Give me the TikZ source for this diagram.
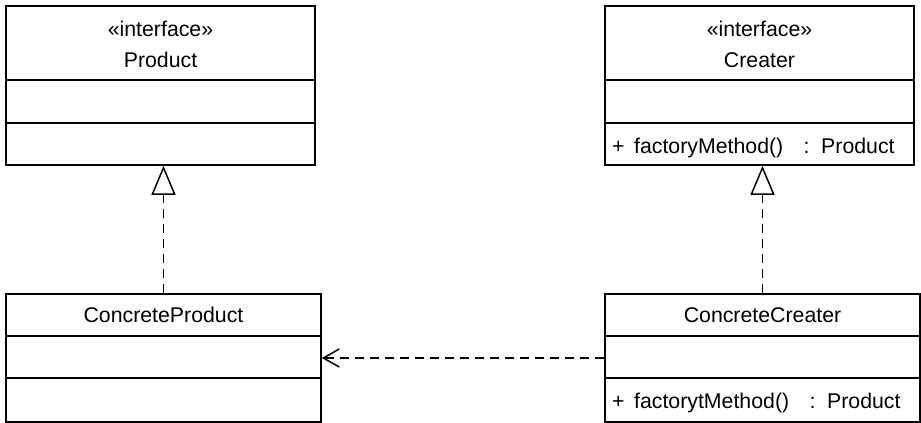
\documentclass[tikz,border=0pt]{standalone}
\usepackage{fontspec}
\setmainfont{Liberation Sans}
\usetikzlibrary{arrows.meta}
\tikzset{
  classbox/.style={draw=black, line width=1.5pt, rectangle, inner sep=0pt, fill=white},
  label/.style={inner sep=0pt, anchor=base, font=\fontsize{21.3}{25}\selectfont},
  method/.style={inner sep=0pt, anchor=base west, font=\fontsize{21.3}{25}\selectfont},
  sep/.style={line width=1.5pt},
  realize/.style={line width=1.5pt, dash pattern=on 9pt off 6pt,
    -{Triangle[open, length=29pt, width=24pt, line width=1.5pt]}},
  depend/.style={line width=1.5pt, dash pattern=on 9pt off 6pt,
    -{Straight Barb[length=16pt, width=18pt, line width=1.5pt]}}
}
\begin{document}
\begin{tikzpicture}[x=1pt,y=-1pt]
\useasboundingbox (0,0) rectangle (921,423);
% boxes
\node[classbox, minimum width=309pt, minimum height=159pt] (P) at (160.5,85.5) {};
\node[classbox, minimum width=309pt, minimum height=159pt] (C) at (759.5,85.5) {};
\node[classbox, minimum width=315pt, minimum height=128pt] (CP) at (163.5,358) {};
\node[classbox, minimum width=315pt, minimum height=128pt] (CC) at (762.5,358) {};
% compartment lines
\draw[sep] (6,80) -- (315,80);
\draw[sep] (6,123) -- (315,123);
\draw[sep] (605,80) -- (914,80);
\draw[sep] (605,123) -- (914,123);
\draw[sep] (6,336) -- (321,336);
\draw[sep] (6,378) -- (321,378);
\draw[sep] (605,336) -- (920,336);
\draw[sep] (605,378) -- (920,378);
% texts
\node[label] (Pst) at (160.5,36) {«interface»};
\node[label] (Pname) at (160.5,67.7) {Product};
\node[label] (Cst) at (759.5,36) {«interface»};
\node[label] (Cname) at (759.5,67.7) {Creater};
\node[method] (Cm) at (612,153) {+ \kern3.6pt factoryMethod() \kern14.5pt: \kern3.7pt Product};
\node[label] (CPname) at (163.5,322.7) {ConcreteProduct};
\node[label] (CCname) at (762.5,322.7) {ConcreteCreater};
\node[method] (CCm) at (612,408) {+ \kern3.6pt factorytMethod() \kern14.5pt: \kern3.7pt Product};
% connectors
\draw[realize] (CP.north) -- (CP.north |- P.south);
\draw[realize] (CC.north) -- (CC.north |- C.south);
\draw[depend] (CC.west) -- (CP.east);
\end{tikzpicture}
\end{document}
